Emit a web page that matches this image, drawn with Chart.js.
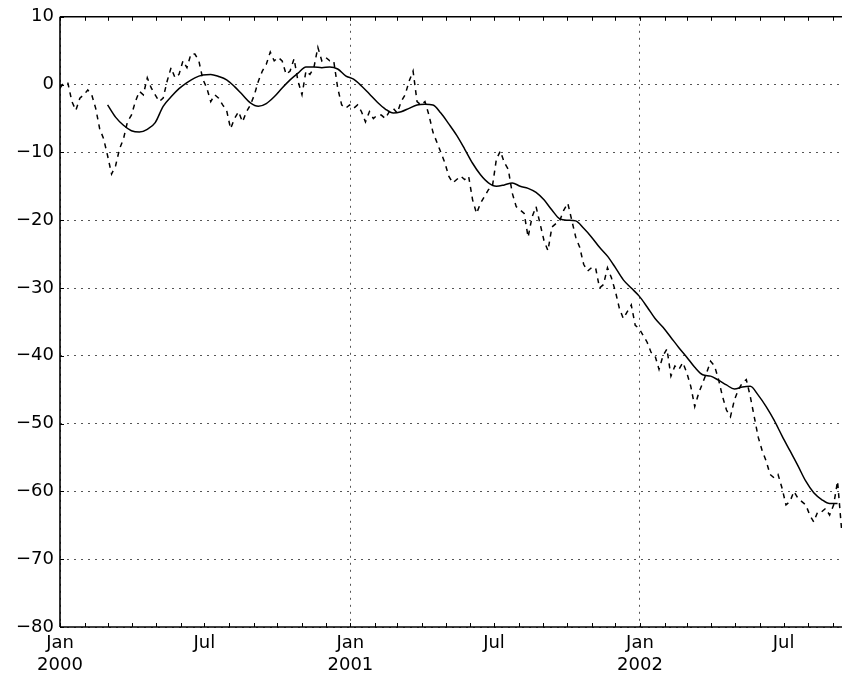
<!DOCTYPE html>
<html>
<head>
<meta charset="utf-8">
<script src="https://cdn.jsdelivr.net/npm/chart.js@4/dist/chart.umd.min.js"></script>
<style>
  body { margin: 0; background: #fff; }
  #wrap { width: 842px; height: 677px; position: relative; }
</style>
</head>
<body>
<div id="wrap"><canvas id="chart"></canvas></div>
<script>
// series start 2000-01-01, x values are day offsets
const startDate = Date.UTC(2000, 0, 1);
const dayMs = 86400000;
const lastDay = 985.6;

// raw walk, read every 5 days
const rawStepDays = 5;
const rawValues = [
  -0.5, 0.3, 0.2, -2.5, -3.8, -2.0, -1.5, -0.8, -1.5, -3.5,
  -6.5, -8.0, -10.5, -13.2, -12.0, -9.5, -8.0, -5.5, -4.5, -2.5,
  -1.0, -1.5, 1.0, -0.5, -1.5, -2.5, -2.0, 0.5, 2.5, 1.0,
  1.5, 3.5, 2.5, 4.5, 4.5, 3.5, 0.8, -0.5, -2.5, -1.5,
  -2.0, -3.0, -3.8, -6.5, -5.0, -4.0, -5.5, -4.0, -3.0, -1.5,
  0.5, 2.0, 3.0, 4.8, 3.5, 4.0, 3.5, 1.5, 2.0, 3.8,
  0.5, -1.5, 2.0, 1.5, 2.5, 5.5, 3.5, 4.0, 3.5, 3.5,
  -0.5, -3.0, -3.5, -3.0, -3.5, -3.0, -4.0, -5.5, -4.0, -5.0,
  -4.5, -4.5, -5.0, -4.0, -3.5, -4.2, -2.5, -1.5, 0.5, 2.0,
  -2.5, -3.0, -2.5, -4.5, -7.0, -8.5, -10.0, -11.5, -13.5, -14.5,
  -14.0, -13.5, -14.0, -13.5, -17.0, -19.0, -17.5, -16.5, -15.5, -15.0,
  -11.0, -9.8, -11.5, -12.5, -16.0, -18.0, -18.5, -19.0, -22.5, -19.5,
  -18.0, -20.5, -23.0, -24.5, -21.0, -20.5, -20.0, -18.5, -17.5, -20.0,
  -22.5, -24.0, -26.5, -27.5, -27.0, -27.0, -30.0, -29.5, -27.0, -28.5,
  -30.5, -33.0, -34.5, -33.5, -32.5, -35.5, -36.0, -37.0, -38.0, -39.5,
  -40.0, -42.0, -40.0, -39.0, -43.0, -41.5, -42.0, -41.0, -42.5, -44.5,
  -47.5, -45.5, -44.0, -42.5, -40.8, -41.5, -43.5, -46.0, -48.0, -49.0,
  -46.5, -45.0, -44.0, -43.5, -46.0, -49.0, -52.0, -54.0, -55.5, -57.5,
  -58.0, -57.5, -59.5, -62.0, -61.5, -60.0, -61.0, -61.5, -62.0, -63.5,
  -64.5, -63.0, -63.0, -62.5, -63.5, -62.0, -58.5, -65.5
];

// moving average, starts after 60 days, read every 10 days
const meanStartDay = 60;
const meanStepDays = 10;
const meanValues = [
  -3.0, -4.8, -6.0, -6.8, -7.0, -6.6, -5.6, -3.2, -1.8, -0.6,
  0.3, 1.0, 1.4, 1.5, 1.2, 0.7, -0.3, -1.5, -2.7, -3.2,
  -2.8, -1.8, -0.5, 0.7, 1.7, 2.6, 2.6, 2.5, 2.6, 2.3,
  1.3, 0.8, -0.2, -1.4, -2.6, -3.6, -4.2, -4.0, -3.5, -3.0,
  -2.9, -3.0, -4.2, -5.8, -7.5, -9.5, -11.6, -13.3, -14.5, -15.0,
  -14.8, -14.5, -15.0, -15.3, -15.9, -17.0, -18.5, -19.8, -20.0, -20.1,
  -21.2, -22.5, -24.0, -25.3, -27.0, -28.8, -30.0, -31.2, -32.8, -34.5,
  -35.8, -37.3, -38.8, -40.2, -41.7, -42.8, -43.0, -43.6, -44.3, -44.9,
  -44.6, -44.5, -45.8, -47.5, -49.5, -51.8, -54.0, -56.2, -58.5, -60.2,
  -61.2, -61.8, -61.8
];

const yTicks = [-80, -70, -60, -50, -40, -30, -20, -10, 0, 10];
const monthNames = ['Jan', 'Feb', 'Mar', 'Apr', 'May', 'Jun', 'Jul', 'Aug', 'Sep', 'Oct', 'Nov', 'Dec'];

function dayToDate(d) {
  return new Date(startDate + Math.round(d) * dayMs);
}

// month starts inside the x range
const monthTicks = [];
for (let y = 2000; y <= 2002; y++) {
  for (let m = 0; m < 12; m++) {
    const d = (Date.UTC(y, m, 1) - startDate) / dayMs;
    if (d <= lastDay) monthTicks.push(d);
  }
}

const rawPoints = rawValues.map((v, i) => ({ x: i * rawStepDays, y: v }));
const meanPoints = meanValues.map((v, i) => ({ x: meanStartDay + i * meanStepDays, y: v }));

const isJan = v => dayToDate(v).getUTCMonth() === 0;

// inward tick marks and spines, matplotlib style
const frame = {
  id: 'frame',
  afterDraw(chart) {
    const { ctx, chartArea: a, scales: { x, y } } = chart;
    ctx.save();
    ctx.strokeStyle = '#000';
    ctx.lineWidth = 1;
    ctx.beginPath();
    x.ticks.forEach(t => {
      const px = Math.round(x.getPixelForValue(t.value)) + 0.5;
      ctx.moveTo(px, a.bottom); ctx.lineTo(px, a.bottom - 4);
      ctx.moveTo(px, a.top); ctx.lineTo(px, a.top + 4);
    });
    y.ticks.forEach(t => {
      const py = Math.round(y.getPixelForValue(t.value)) + 0.5;
      ctx.moveTo(a.left, py); ctx.lineTo(a.left + 4, py);
    });
    ctx.stroke();
    ctx.lineWidth = 1.6;
    ctx.beginPath();
    ctx.moveTo(a.left, a.top); ctx.lineTo(a.right, a.top);
    ctx.moveTo(a.left, a.top); ctx.lineTo(a.left, a.bottom);
    ctx.moveTo(a.left, a.bottom); ctx.lineTo(a.right, a.bottom);
    ctx.stroke();
    ctx.restore();
  }
};

const ctx = document.getElementById('chart').getContext('2d');
new Chart(ctx, {
  type: 'line',
  data: {
    datasets: [
      {
        data: rawPoints,
        borderColor: '#000',
        borderWidth: 1.5,
        borderDash: [5, 5],
        pointRadius: 0,
        tension: 0,
        fill: false
      },
      {
        data: meanPoints,
        borderColor: '#000',
        borderWidth: 1.5,
        pointRadius: 0,
        cubicInterpolationMode: 'monotone',
        fill: false
      }
    ]
  },
  options: {
    responsive: true,
    maintainAspectRatio: false,
    animation: false,
    layout: { padding: { top: 14, right: 0, left: 0, bottom: 0 } },
    plugins: {
      legend: { display: false },
      tooltip: { enabled: false }
    },
    scales: {
      x: {
        type: 'linear',
        min: 0,
        max: lastDay,
        afterBuildTicks: s => { s.ticks = monthTicks.map(v => ({ value: v })); },
        afterFit: s => { s.height = 50; },
        grid: {
          drawTicks: false,
          lineWidth: 1,
          color: c => (c.tick && isJan(c.tick.value) ? '#555' : 'rgba(0,0,0,0)')
        },
        border: { display: false, dash: [2, 5] },
        ticks: {
          autoSkip: false,
          maxRotation: 0,
          padding: 6,
          color: '#000',
          font: { family: 'DejaVu Sans', size: 18, lineHeight: 1.2 },
          callback: v => {
            const d = dayToDate(v);
            const m = d.getUTCMonth();
            if (m === 0) return [monthNames[0], String(d.getUTCFullYear())];
            if (m === 6) return monthNames[6];
            return '';
          }
        }
      },
      y: {
        min: -80,
        max: 10,
        afterBuildTicks: s => { s.ticks = yTicks.map(v => ({ value: v })); },
        afterFit: s => { s.width = 60; },
        grid: { drawTicks: false, lineWidth: 1, color: '#555' },
        border: { display: false, dash: [2, 5] },
        ticks: {
          padding: 6,
          color: '#000',
          font: { family: 'DejaVu Sans', size: 18 },
          callback: v => (v < 0 ? '\u2212' + Math.abs(v) : String(v))
        }
      }
    }
  },
  plugins: [frame]
});
</script>
</body>
</html>
